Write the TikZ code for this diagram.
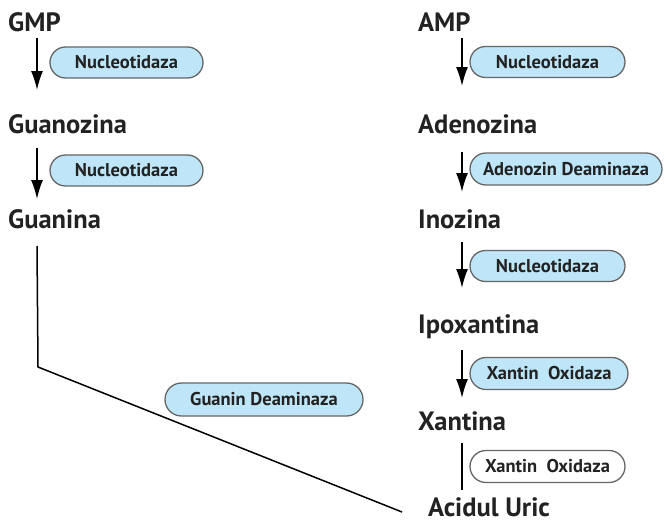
\documentclass[tikz,border=0pt]{standalone}
\usepackage{fontspec}
\setmainfont{PT Sans}
\usetikzlibrary{arrows.meta,shapes.misc}
\definecolor{pillblue}{HTML}{BEE6F8}
\definecolor{pillborder}{HTML}{666666}
\definecolor{txt}{HTML}{222222}
\begin{document}
\begin{tikzpicture}[x=1pt,y=-1pt,
  lbl/.style={anchor=base west,inner sep=0pt,font=\bfseries\fontsize{26.5}{30}\selectfont,text=txt},
  pill/.style={rounded rectangle,draw=pillborder,line width=1.3pt,fill=pillblue,inner sep=0pt,
    font=\bfseries\fontsize{18.5}{22}\selectfont,text=txt},
  wpill/.style={pill,fill=white},
  arr/.style={line width=1.5pt,-{Latex[length=19pt,width=12pt]}},
  ln/.style={line width=1.5pt}]
\useasboundingbox (0,0) rectangle (666,522);
% left column
\node[lbl] (gmp) at (8,31) {GMP};
\node[lbl] (guo) at (8,133) {Guanozina};
\node[lbl] (gua) at (8,228) {Guanina};
% right column
\node[lbl] (amp) at (418,31) {AMP};
\node[lbl] (ado) at (418,133) {Adenozina};
\node[lbl] (ino) at (418,228) {Inozina};
\node[lbl] (ipo) at (418,333) {Ipoxantina};
\node[lbl] (xan) at (418,430) {Xantina};
\node[lbl] (uric) at (428,516) {Acidul Uric};
% pills
\node[pill,minimum width=153pt,minimum height=31pt] (p1) at (126.5,62.5) {Nucleotidaza};
\node[pill,minimum width=153pt,minimum height=31pt] (p2) at (126.5,170.5) {Nucleotidaza};
\node[pill,minimum width=155pt,minimum height=31pt] (p3) at (547.5,62) {Nucleotidaza};
\node[pill,minimum width=192pt,minimum height=32pt] (p4) at (566,169) {Adenozin Deaminaza};
\node[pill,minimum width=155pt,minimum height=31pt] (p5) at (547.5,266) {Nucleotidaza};
\node[pill,minimum width=158pt,minimum height=32pt] (p6) at (549,373.5) {Xantin~~Oxidaza};
\node[wpill,minimum width=155pt,minimum height=32pt] (p7) at (547.5,466.5) {Xantin~~Oxidaza};
\node[pill,minimum width=198pt,minimum height=33pt] (p8) at (264,399.5) {Guanin Deaminaza};
% connector coordinates
\coordinate (a1s) at (37,38); \coordinate (a1e) at (37,90);
\coordinate (a2s) at (37,148); \coordinate (a2e) at (37,199);
\coordinate (gs) at (37,246); \coordinate (gc) at (38,367); \coordinate (ge) at (402,512);
\coordinate (b1s) at (462,38); \coordinate (b1e) at (462,86);
\coordinate (b2s) at (462,152); \coordinate (b2e) at (462,192);
\coordinate (b3s) at (462,242); \coordinate (b3e) at (462,288);
\coordinate (b4s) at (462,350); \coordinate (b4e) at (462,398);
\coordinate (b5s) at (462,443); \coordinate (b5e) at (462,490);
\draw[arr] (a1s) -- (a1e);
\draw[arr] (a2s) -- (a2e);
\draw[ln] (gs) -- (gc) -- (ge);
\draw[arr] (b1s) -- (b1e);
\draw[arr] (b2s) -- (b2e);
\draw[arr] (b3s) -- (b3e);
\draw[arr] (b4s) -- (b4e);
\draw[ln] (b5s) -- (b5e);
\end{tikzpicture}
\end{document}
